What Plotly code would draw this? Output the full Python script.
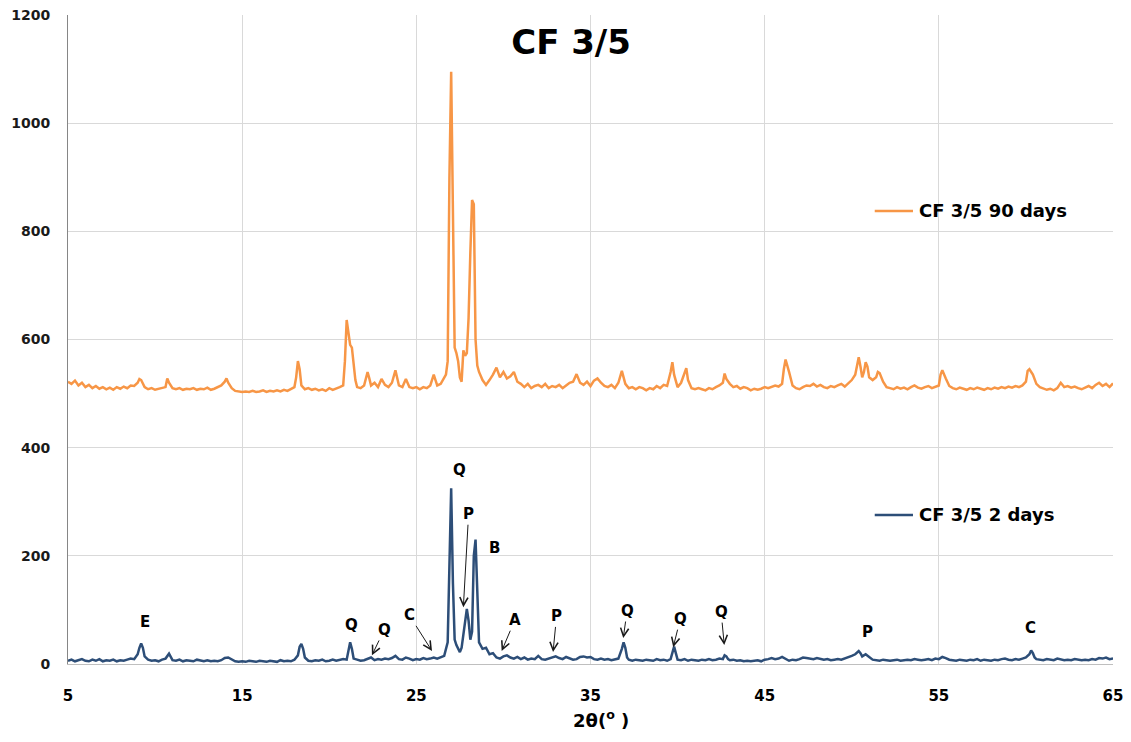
import plotly.graph_objects as go

# ---------------- data ----------------
# CF 3/5 2 days (2theta, intensity)
tt_2d = [5.0, 5.2, 5.4, 5.6, 5.8, 6.0, 6.2, 6.4, 6.6, 6.8, 7.0, 7.2, 7.4, 7.6, 7.8, 8.0, 8.2, 8.4, 8.6, 8.8,
         9.0, 9.1, 9.2, 9.3, 9.4, 9.6, 9.8, 10.0, 10.2, 10.4, 10.6, 10.8, 10.9, 11.0, 11.2, 11.4, 11.6, 11.8,
         12.0, 12.2, 12.4, 12.6, 12.8, 13.0, 13.2, 13.4, 13.6, 13.8, 14.0, 14.2, 14.4, 14.6, 14.8, 15.0, 15.2,
         15.4, 15.6, 15.8, 16.0, 16.2, 16.4, 16.6, 16.8, 17.0, 17.2, 17.4, 17.6, 17.8, 18.0, 18.2, 18.3, 18.4,
         18.5, 18.6, 18.8, 19.0, 19.2, 19.4, 19.6, 19.8, 20.0, 20.2, 20.4, 20.6, 20.8, 21.0, 21.1, 21.2, 21.3,
         21.4, 21.6, 21.8, 22.0, 22.2, 22.4, 22.6, 22.8, 23.0, 23.2, 23.4, 23.6, 23.8, 24.0, 24.2, 24.4, 24.6,
         24.8, 25.0, 25.2, 25.4, 25.6, 25.8, 26.0, 26.2, 26.4, 26.6, 26.8, 26.9, 27.0, 27.1, 27.2, 27.3, 27.4,
         27.5, 27.6, 27.7, 27.8, 27.9, 28.0, 28.1, 28.2, 28.3, 28.4, 28.5, 28.6, 28.8, 29.0, 29.2, 29.4, 29.6,
         29.8, 30.0, 30.2, 30.4, 30.6, 30.8, 31.0, 31.2, 31.4, 31.6, 31.8, 32.0, 32.2, 32.4, 32.6, 32.8, 33.0,
         33.2, 33.4, 33.6, 33.8, 34.0, 34.2, 34.4, 34.6, 34.8, 35.0, 35.2, 35.4, 35.6, 35.8, 36.0, 36.2, 36.4,
         36.6, 36.8, 36.9, 37.0, 37.1, 37.2, 37.4, 37.6, 37.8, 38.0, 38.2, 38.4, 38.6, 38.8, 39.0, 39.2, 39.4,
         39.6, 39.7, 39.8, 39.9, 40.0, 40.2, 40.4, 40.6, 40.8, 41.0, 41.2, 41.4, 41.6, 41.8, 42.0, 42.2, 42.4,
         42.6, 42.7, 42.8, 42.9, 43.0, 43.2, 43.4, 43.6, 43.8, 44.0, 44.2, 44.4, 44.6, 44.8, 45.0, 45.2, 45.4,
         45.6, 45.8, 46.0, 46.2, 46.4, 46.6, 46.8, 47.0, 47.2, 47.4, 47.6, 47.8, 48.0, 48.2, 48.4, 48.6, 48.8,
         49.0, 49.2, 49.4, 49.6, 49.8, 50.0, 50.2, 50.4, 50.5, 50.6, 50.8, 50.9, 51.0, 51.2, 51.4, 51.6, 51.8,
         52.0, 52.2, 52.4, 52.6, 52.8, 53.0, 53.2, 53.4, 53.6, 53.8, 54.0, 54.2, 54.4, 54.6, 54.8, 55.0, 55.2,
         55.4, 55.6, 55.8, 56.0, 56.2, 56.4, 56.6, 56.8, 57.0, 57.2, 57.4, 57.6, 57.8, 58.0, 58.2, 58.4, 58.6,
         58.8, 59.0, 59.2, 59.4, 59.6, 59.8, 60.0, 60.2, 60.3, 60.4, 60.5, 60.6, 60.8, 61.0, 61.2, 61.4, 61.6,
         61.8, 62.0, 62.2, 62.4, 62.6, 62.8, 63.0, 63.2, 63.4, 63.6, 63.8, 64.0, 64.2, 64.4, 64.6, 64.8, 65.0]
int_2d = [6, 8, 5, 7, 9, 6, 5, 8, 6, 9, 5, 7, 6, 8, 5, 7, 6, 8, 10, 9,
          18, 30, 38, 30, 14, 8, 6, 7, 5, 8, 10, 19, 14, 7, 6, 8, 5, 7,
          6, 5, 8, 6, 5, 7, 5, 6, 5, 7, 11, 12, 8, 5, 4, 5, 4,
          6, 5, 4, 6, 5, 4, 6, 5, 4, 7, 5, 6, 5, 8, 16, 32, 37,
          28, 12, 6, 5, 7, 6, 8, 5, 6, 8, 6, 7, 9, 8, 22, 40, 28,
          10, 8, 6, 7, 10, 12, 7, 9, 8, 10, 9, 11, 15, 9, 8, 12, 10,
          7, 9, 8, 11, 9, 10, 12, 10, 13, 15, 40, 200, 325, 150, 45, 35, 28,
          22, 30, 55, 85, 102, 80, 45, 60, 200, 230, 120, 40, 28, 30, 18, 20, 12,
          10, 14, 16, 12, 10, 13, 9, 12, 8, 10, 9, 15, 9, 8, 10, 12, 14,
          11, 9, 13, 10, 8, 9, 13, 14, 12, 13, 9, 8, 10, 8, 9, 7, 8,
          10, 28, 40, 30, 12, 8, 6, 8, 7, 6, 8, 7, 6, 9, 7, 8, 6,
          9, 22, 32, 20, 8, 7, 9, 6, 8, 7, 6, 8, 7, 9, 7, 8, 10,
          9, 16, 14, 9, 7, 8, 6, 7, 5, 6, 5, 6, 7, 5, 8, 9, 11,
          9, 10, 13, 9, 6, 8, 7, 9, 12, 11, 10, 9, 11, 9, 8, 9, 7,
          8, 9, 8, 10, 13, 15, 18, 24, 20, 14, 18, 16, 13, 8, 7, 6, 8,
          7, 6, 7, 8, 6, 7, 8, 7, 9, 8, 7, 8, 9, 7, 10, 9, 13,
          11, 8, 7, 6, 8, 7, 6, 8, 7, 9, 6, 8, 7, 6, 8, 7, 9,
          10, 8, 7, 9, 8, 10, 12, 18, 25, 20, 12, 9, 8, 7, 9, 8, 7,
          10, 8, 7, 8, 7, 9, 8, 7, 8, 7, 9, 8, 11, 10, 12, 9, 10]

# CF 3/5 90 days (2theta, intensity)
tt_90d = [5.0, 5.2, 5.4, 5.6, 5.8, 6.0, 6.2, 6.4, 6.6, 6.8, 7.0, 7.2, 7.4, 7.6, 7.8, 8.0, 8.2, 8.4, 8.6, 8.8,
          9.0, 9.1, 9.2, 9.3, 9.4, 9.6, 9.8, 10.0, 10.2, 10.4, 10.6, 10.7, 10.8, 11.0, 11.2, 11.4, 11.6, 11.8,
          12.0, 12.2, 12.4, 12.6, 12.8, 13.0, 13.2, 13.4, 13.6, 13.8, 14.0, 14.1, 14.2, 14.4, 14.6, 14.8, 15.0,
          15.2, 15.4, 15.6, 15.8, 16.0, 16.2, 16.4, 16.6, 16.8, 17.0, 17.2, 17.4, 17.6, 17.8, 18.0, 18.1, 18.2,
          18.3, 18.4, 18.6, 18.8, 19.0, 19.2, 19.4, 19.6, 19.8, 20.0, 20.2, 20.4, 20.6, 20.8, 20.9, 21.0, 21.1,
          21.2, 21.3, 21.4, 21.5, 21.6, 21.8, 22.0, 22.2, 22.3, 22.4, 22.6, 22.8, 23.0, 23.2, 23.4, 23.6, 23.8,
          23.9, 24.0, 24.2, 24.4, 24.6, 24.8, 25.0, 25.2, 25.4, 25.6, 25.8, 26.0, 26.1, 26.2, 26.4, 26.6, 26.7,
          26.8, 26.9, 27.0, 27.1, 27.2, 27.3, 27.4, 27.5, 27.6, 27.7, 27.8, 27.9, 28.0, 28.1, 28.2, 28.3, 28.4,
          28.5, 28.6, 28.8, 29.0, 29.2, 29.4, 29.6, 29.8, 30.0, 30.2, 30.4, 30.6, 30.8, 31.0, 31.2, 31.4, 31.6,
          31.8, 32.0, 32.2, 32.4, 32.6, 32.8, 33.0, 33.2, 33.4, 33.6, 33.8, 34.0, 34.2, 34.4, 34.6, 34.8, 35.0,
          35.2, 35.4, 35.6, 35.8, 36.0, 36.2, 36.4, 36.6, 36.8, 36.9, 37.0, 37.2, 37.4, 37.6, 37.8, 38.0, 38.2,
          38.4, 38.6, 38.8, 39.0, 39.2, 39.4, 39.6, 39.7, 39.8, 40.0, 40.2, 40.4, 40.5, 40.6, 40.8, 41.0, 41.2,
          41.4, 41.6, 41.8, 42.0, 42.2, 42.4, 42.6, 42.7, 42.8, 43.0, 43.2, 43.4, 43.6, 43.8, 44.0, 44.2, 44.4,
          44.6, 44.8, 45.0, 45.2, 45.4, 45.6, 45.8, 46.0, 46.1, 46.2, 46.4, 46.6, 46.8, 47.0, 47.2, 47.4, 47.6,
          47.8, 48.0, 48.2, 48.4, 48.6, 48.8, 49.0, 49.2, 49.4, 49.6, 49.8, 50.0, 50.2, 50.3, 50.4, 50.5, 50.6,
          50.7, 50.8, 50.9, 51.0, 51.2, 51.4, 51.5, 51.6, 51.8, 52.0, 52.2, 52.4, 52.6, 52.8, 53.0, 53.2, 53.4,
          53.6, 53.8, 54.0, 54.2, 54.4, 54.6, 54.8, 55.0, 55.1, 55.2, 55.4, 55.6, 55.8, 56.0, 56.2, 56.4, 56.6,
          56.8, 57.0, 57.2, 57.4, 57.6, 57.8, 58.0, 58.2, 58.4, 58.6, 58.8, 59.0, 59.2, 59.4, 59.6, 59.8, 60.0,
          60.1, 60.2, 60.4, 60.6, 60.8, 61.0, 61.2, 61.4, 61.6, 61.8, 62.0, 62.2, 62.4, 62.6, 62.8, 63.0, 63.2,
          63.4, 63.6, 63.8, 64.0, 64.2, 64.4, 64.6, 64.8, 65.0]
int_90d = [522, 518, 524, 515, 520, 512, 516, 510, 514, 509, 512, 508, 511, 507, 512, 509, 513, 510, 515, 514,
           520, 527, 525, 518, 512, 508, 510, 507, 509, 511, 512, 528, 520, 510, 508, 510, 507, 509,
           508, 510, 507, 509, 508, 511, 507, 509, 512, 515, 522, 528, 520, 510, 505, 504, 503,
           504, 503, 505, 503, 504, 506, 503, 505, 504, 506, 504, 507, 505, 508, 512, 530, 560,
           545, 515, 508, 510, 507, 509, 506, 508, 505, 510, 507, 509, 512, 515, 560, 636, 615,
           590, 585, 560, 525, 512, 510, 515, 540, 528, 515, 520, 512, 527, 516, 512, 520, 543,
           528, 515, 512, 527, 512, 510, 512, 508, 512, 510, 515, 535, 525, 515, 518, 528, 535,
           560, 900, 1095, 800, 585, 575, 560, 530, 522, 580, 570, 575, 640, 760, 858, 850, 600,
           552, 540, 525, 516, 525, 535, 548, 530, 540, 528, 532, 540, 522, 518, 512, 518, 510,
           514, 516, 512, 518, 510, 514, 512, 516, 510, 515, 520, 522, 536, 520, 516, 522, 514,
           524, 528, 520, 514, 512, 516, 510, 520, 542, 530, 518, 510, 512, 508, 512, 510, 506,
           510, 508, 514, 510, 516, 514, 540, 558, 535, 512, 520, 538, 547, 525, 510, 508, 510,
           508, 506, 510, 508, 512, 515, 520, 537, 527, 518, 512, 514, 509, 512, 510, 506, 509,
           507, 509, 512, 510, 513, 515, 513, 518, 545, 563, 540, 515, 510, 508, 512, 515, 514, 518,
           513, 516, 512, 510, 514, 512, 515, 518, 513, 520, 525, 535, 555, 567, 550, 530, 540,
           558, 550, 530, 525, 530, 540, 538, 522, 512, 510, 508, 512, 509, 511, 508, 512, 515,
           511, 509, 512, 514, 510, 512, 515, 535, 543, 528, 514, 510, 508, 511, 509, 507, 510,
           508, 511, 509, 507, 510, 508, 511, 509, 512, 510, 513, 511, 514, 512, 515, 522, 542,
           545, 535, 518, 512, 510, 507, 509, 506, 510, 520, 512, 514, 511, 513, 510, 508, 511,
           514, 510, 516, 520, 514, 518, 512, 519, 516]

x_ticks = [5, 15, 25, 35, 45, 55, 65]
y_ticks = [0, 200, 400, 600, 800, 1000, 1200]

series_names = ["CF 3/5 90 days", "CF 3/5 2 days"]
phase_labels = ["E", "Q", "Q", "C", "Q", "P", "B", "A", "P", "Q", "Q", "Q", "P", "C"]

# ---------------- style / layout ----------------
ORANGE = "#F79646"
BLUE = "#2D4E78"
FONT = "DejaVu Sans"

# label placement: (text x, text y, arrow tip x, arrow tip y) ; tip None -> no arrow
label_pos = [
    (9.4, 78, None, None),
    (21.3, 72, None, None),
    (23.15, 63, 22.45, 16),
    (24.6, 90, 25.9, 24),
    (27.45, 358, None, None),
    (28.0, 277, 27.7, 105),
    (29.5, 214, None, None),
    (30.65, 81, 29.9, 24),
    (33.05, 88, 32.85, 22),
    (37.1, 98, 36.88, 48),
    (40.15, 83, 39.75, 31),
    (42.5, 96, 42.68, 35),
    (50.9, 60, None, None),
    (60.25, 66, None, None),
]

fig = go.Figure()
fig.add_trace(go.Scatter(x=tt_90d, y=int_90d, mode="lines", name=series_names[0],
                         line=dict(color=ORANGE, width=2.5), showlegend=False))
fig.add_trace(go.Scatter(x=tt_2d, y=int_2d, mode="lines", name=series_names[1],
                         line=dict(color=BLUE, width=2.5), showlegend=False))

annotations = []
for txt, (tx, ty, ax_, ay_) in zip(phase_labels, label_pos):
    lbl = f"<b>{txt}</b>"
    if ax_ is None:
        annotations.append(dict(x=tx, y=ty, xref="x", yref="y", text=lbl, showarrow=False,
                                font=dict(family=FONT, size=15, color="#000000")))
    else:
        annotations.append(dict(x=ax_, y=ay_, xref="x", yref="y", ax=tx, ay=ty, axref="x", ayref="y",
                                text=lbl, showarrow=True, arrowhead=5, arrowsize=1.6, arrowwidth=1,
                                arrowcolor="#1a1a1a", standoff=0, startstandoff=0,
                                font=dict(family=FONT, size=15, color="#000000")))

# in-plot legend entries
legend_y = [0.698, 0.2296]
legend_col = [ORANGE, BLUE]
shapes = []
for name, ly, col in zip(series_names, legend_y, legend_col):
    shapes.append(dict(type="line", xref="paper", yref="paper", x0=0.772, x1=0.8086, y0=ly, y1=ly,
                       line=dict(color=col, width=2.5)))
    annotations.append(dict(x=0.8125, y=ly, xref="paper", yref="paper", text=f"<b>{name}</b>",
                            showarrow=False, xanchor="left", yanchor="middle",
                            font=dict(family=FONT, size=18, color="#000000")))

# x-axis title
annotations.append(dict(x=0.51, y=-0.084, xref="paper", yref="paper",
                        text="<b>2θ(<sup>o</sup>&nbsp;)</b>",
                        showarrow=False, xanchor="center", yanchor="middle",
                        font=dict(family=FONT, size=18, color="#000000")))

# page body has an 8px margin: figure is sized so the plot area lands where the reference has it
fig.update_layout(
    width=1115, height=726,
    margin=dict(l=60, r=10, t=7, b=70, autoexpand=False),
    paper_bgcolor="white", plot_bgcolor="white",
    title=dict(text="<b>CF 3/5</b>", x=0.505, xanchor="center", y=0.953, yanchor="middle",
               font=dict(family=FONT, size=34, color="#000000")),
    annotations=annotations, shapes=shapes,
    xaxis=dict(range=[5, 65], tickvals=x_ticks, ticktext=[f"<b>{v}</b>" for v in x_ticks],
               showgrid=True, gridcolor="#d9d9d9", gridwidth=1, zeroline=False,
               showline=True, linecolor="#bfbfbf", linewidth=1, ticks="",
               ticklabeloverflow="allow",
               ticklabelstandoff=18, tickfont=dict(family=FONT, size=15, color="#000000")),
    yaxis=dict(range=[0, 1200], tickvals=y_ticks, ticktext=[f"<b>{v}</b>" for v in y_ticks],
               showgrid=True, gridcolor="#d9d9d9", gridwidth=1, zeroline=False,
               showline=True, linecolor="#868686", linewidth=1, ticks="",
               ticklabeloverflow="allow",
               ticklabelstandoff=14, tickfont=dict(family=FONT, size=14, color="#1a1a1a")),
)

fig.write_html("out.html")
